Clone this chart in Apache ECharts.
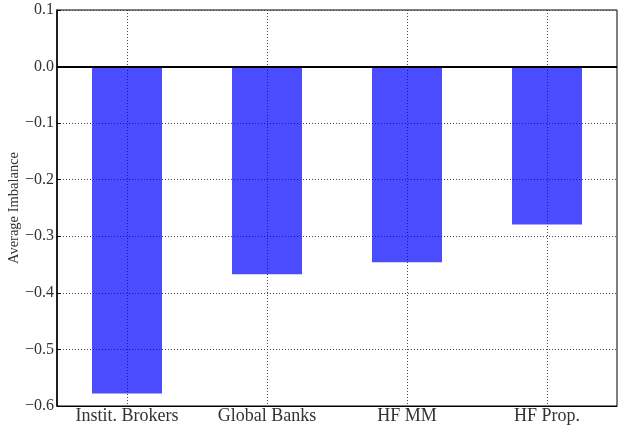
<!DOCTYPE html>
<html>
<head>
<meta charset="utf-8">
<script src="https://cdn.jsdelivr.net/npm/echarts@6/dist/echarts.min.js"></script>
<style>
  html, body { margin: 0; padding: 0; background: #fff; }
  #chart { width: 618px; height: 427px; }
</style>
</head>
<body>
<div id="chart"></div>
<script>
const categories = ['Instit. Brokers', 'Global Banks', 'HF MM', 'HF Prop.']
const imbalance = [-0.578, -0.367, -0.346, -0.279]
const yTicks = { min: -0.6, max: 0.1, step: 0.1 }

const chart = echarts.init(document.getElementById('chart'))
const font = 'Liberation Serif'

// grid dotted style, like the matplotlib default grid
const gridLine = { color: '#444', width: 1, type: [1, 2] }

chart.setOption({
  animation: false,
  textStyle: { fontFamily: font },
  grid: {
    left: 57, right: 1, top: 10, bottom: 21,
    outerBoundsMode: 'none',
    containLabel: false,
    show: true, borderColor: '#000', borderWidth: 1
  },
  xAxis: {
    type: 'category',
    data: categories,
    axisLine: { onZero: false, lineStyle: { color: '#000' } },
    axisTick: { inside: true, alignWithLabel: true, length: 4, lineStyle: { color: '#000' } },
    splitLine: { show: true, alignWithLabel: true, lineStyle: gridLine },
    axisLabel: { color: '#333', fontSize: 18, fontFamily: font, margin: 1 }
  },
  yAxis: {
    type: 'value',
    min: yTicks.min,
    max: yTicks.max,
    interval: yTicks.step,
    name: 'Average Imbalance',
    nameLocation: 'middle',
    nameGap: 35,
    nameMoveOverlap: false,
    nameTextStyle: { color: '#333', fontSize: 14.5, fontFamily: font },
    axisLine: { show: true, lineStyle: { color: '#000', width: 1.5 } },
    axisTick: { show: true, inside: true, length: 4, lineStyle: { color: '#000' } },
    splitLine: { show: true, lineStyle: gridLine },
    axisLabel: {
      color: '#333', fontSize: 16, fontFamily: font, margin: 3,
      formatter: v => (Math.abs(v) < 1e-9 ? 0 : v).toFixed(1).replace('-', '\u2212')
    }
  },
  series: [{
    type: 'bar',
    data: imbalance,
    barWidth: '50%',
    itemStyle: { color: '#0000ff', opacity: 0.7 },
    markLine: {
      silent: true,
      symbol: 'none',
      label: { show: false },
      lineStyle: { color: '#000', width: 2, type: 'solid' },
      data: [{ yAxis: 0 }],
      z: 10
    }
  }]
})
</script>
</body>
</html>
